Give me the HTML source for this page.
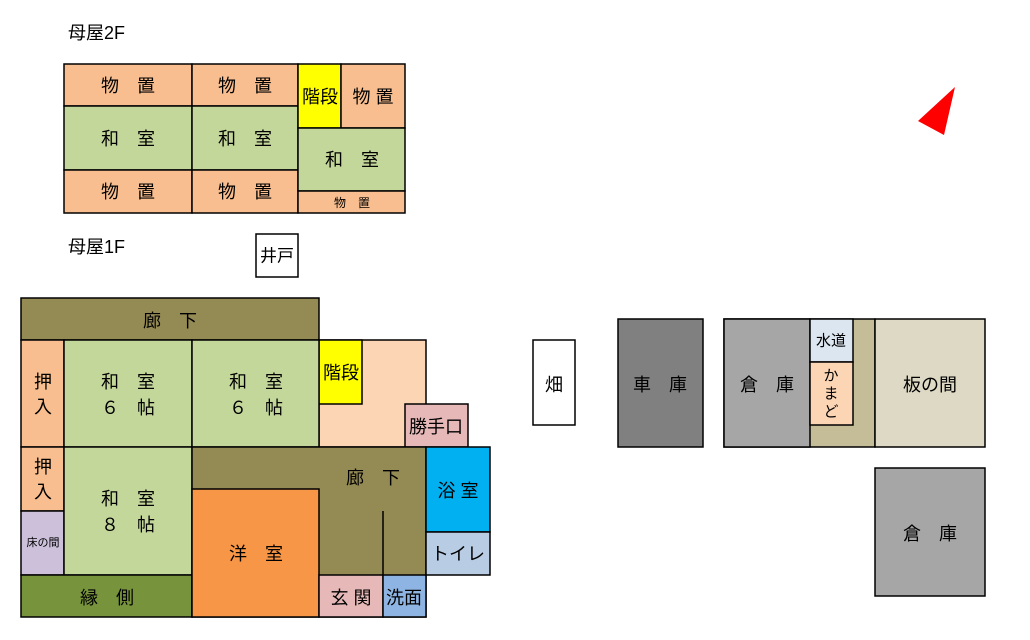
<!DOCTYPE html>
<html><head><meta charset="utf-8"><style>
body{margin:0;background:#fff}
svg{display:block}
text{font-family:"Liberation Sans","Noto Sans CJK JP",sans-serif;fill:#000;text-anchor:middle;dominant-baseline:central}
rect{stroke:#000;stroke-width:1.5}
</style></head><body>
<svg width="1030" height="640" viewBox="0 0 1030 640" xmlns="http://www.w3.org/2000/svg">
<text x="68" y="33" font-size="18" style="text-anchor:start">母屋2F</text>
<text x="68" y="247" font-size="18" style="text-anchor:start">母屋1F</text>
<!-- 2F -->
<g font-size="18">
<rect x="64" y="64" width="128" height="42" fill="#f8be8f"/><text x="128" y="86">物　置</text>
<rect x="192" y="64" width="106" height="42" fill="#f8be8f"/><text x="245" y="86">物　置</text>
<rect x="64" y="106" width="128" height="64" fill="#c4d79b"/><text x="128" y="139">和　室</text>
<rect x="192" y="106" width="106" height="64" fill="#c4d79b"/><text x="245" y="139">和　室</text>
<rect x="64" y="170" width="128" height="43" fill="#f8be8f"/><text x="128" y="192">物　置</text>
<rect x="192" y="170" width="106" height="43" fill="#f8be8f"/><text x="245" y="192">物　置</text>
<rect x="298" y="64" width="43" height="64" fill="#ffff00"/><text x="320" y="97">階段</text>
<rect x="341" y="64" width="64" height="64" fill="#f8be8f"/><text x="373" y="97">物 置</text>
<rect x="298" y="128" width="107" height="63" fill="#c4d79b"/><text x="352" y="160">和　室</text>
<rect x="298" y="191" width="107" height="22" fill="#f8be8f"/><text x="352" y="203" font-size="12">物　置</text>
</g>
<rect x="256" y="234" width="42" height="43" fill="#fff"/><text x="277" y="256" font-size="17">井戸</text>
<!-- 1F -->
<g font-size="18">
<rect x="21" y="298" width="298" height="42" fill="#948a54"/><text x="170" y="321">廊　下</text>
<rect x="319" y="340" width="107" height="107" fill="#fcd5b4"/>
<rect x="319" y="340" width="43" height="64" fill="#ffff00"/><text x="341" y="373">階段</text>
<rect x="405" y="404" width="63" height="43" fill="#e6b8b7"/><text x="436" y="427">勝手口</text>
<rect x="21" y="340" width="43" height="107" fill="#f8be8f"/><text x="43" y="382">押</text><text x="43" y="407">入</text>
<rect x="64" y="340" width="128" height="107" fill="#c4d79b"/><text x="128" y="382">和　室</text><text x="128" y="408">６　帖</text>
<rect x="192" y="340" width="127" height="107" fill="#c4d79b"/><text x="256" y="382">和　室</text><text x="256" y="408">６　帖</text>
<rect x="21" y="447" width="43" height="64" fill="#f8be8f"/><text x="43" y="467">押</text><text x="43" y="492">入</text>
<rect x="21" y="511" width="43" height="64" fill="#ccc0da"/><text x="43" y="543" font-size="11">床の間</text>
<rect x="64" y="447" width="128" height="128" fill="#c4d79b"/><text x="128" y="499">和　室</text><text x="128" y="525">８　帖</text>
<rect x="21" y="575" width="171" height="42" fill="#77933c"/><text x="107" y="598">縁　側</text>
<rect x="192" y="447" width="234" height="170" fill="#948a54"/><text x="373" y="478">廊　下</text>
<line x1="383" y1="511" x2="383" y2="575" stroke="#000" stroke-width="1.5"/>
<rect x="192" y="489" width="127" height="128" fill="#f79646"/><text x="256" y="554">洋　室</text>
<rect x="319" y="575" width="64" height="42" fill="#e6b8b7"/><text x="351" y="598">玄 関</text>
<rect x="383" y="575" width="43" height="42" fill="#8db4e2"/><text x="404" y="598">洗面</text>
<rect x="426" y="447" width="64" height="85" fill="#00b0f0"/><text x="458" y="491">浴 室</text>
<rect x="426" y="532" width="64" height="43" fill="#b8cce4"/><text x="458" y="554">トイレ</text>
<rect x="533" y="340" width="42" height="85" fill="#fff"/><text x="554" y="385">畑</text>
<rect x="618" y="319" width="85" height="128" fill="#808080"/><text x="660" y="385">車　庫</text>
<rect x="724" y="319" width="151" height="128" fill="#c4bd97"/>
<rect x="724" y="319" width="86" height="128" fill="#a6a6a6"/><text x="767" y="385">倉　庫</text>
<rect x="810" y="319" width="43" height="43" fill="#dce6f1"/><text x="831" y="341" font-size="15">水道</text>
<rect x="810" y="362" width="43" height="63" fill="#fcd5b4"/><text x="831" y="376" font-size="15">か</text><text x="831" y="394" font-size="15">ま</text><text x="831" y="412" font-size="15">ど</text>
<rect x="875" y="319" width="110" height="128" fill="#ddd9c4"/><text x="930" y="385">板の間</text>
<rect x="875" y="468" width="110" height="128" fill="#a6a6a6"/><text x="930" y="534">倉　庫</text>
</g>
<polygon points="955,87 918,121 944,135" fill="#ff0000"/>
</svg>
</body></html>
